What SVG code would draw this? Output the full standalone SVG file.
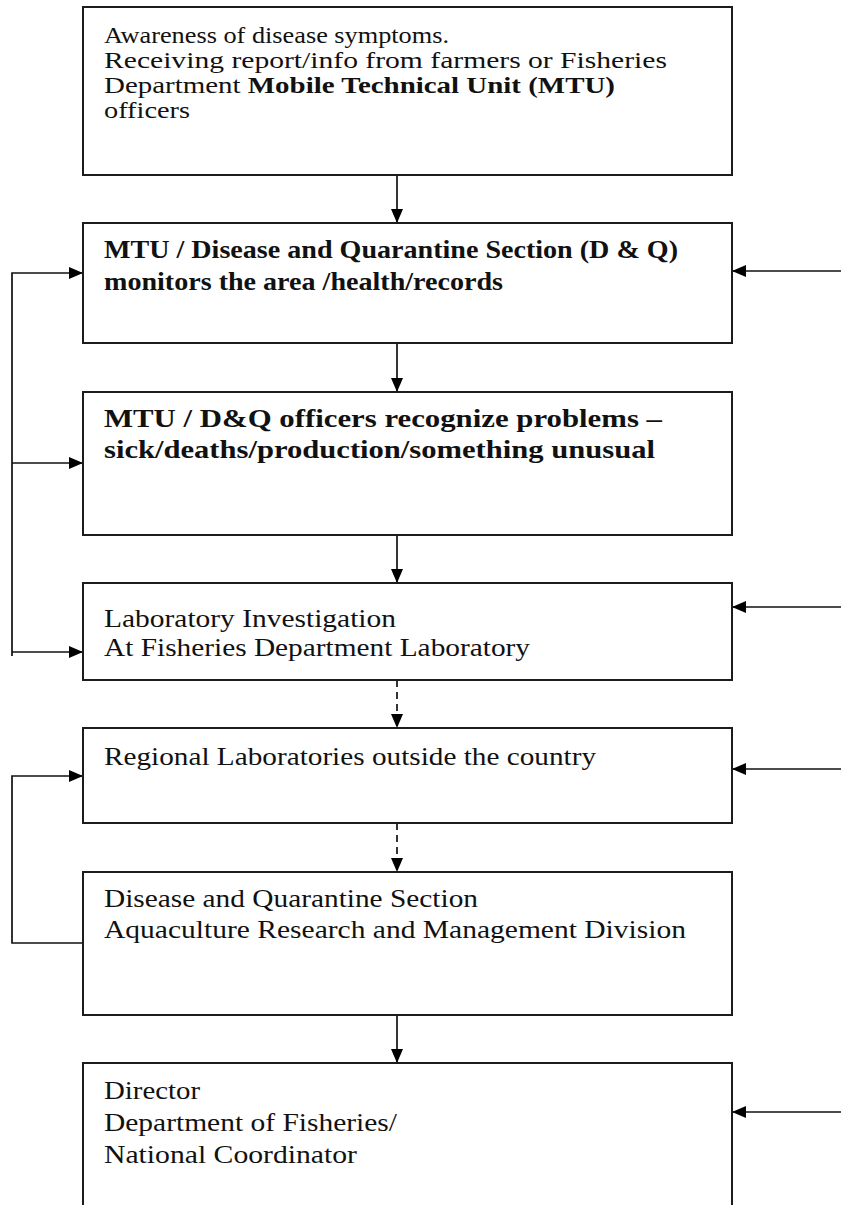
<svg xmlns="http://www.w3.org/2000/svg" width="841" height="1205" viewBox="0 0 841 1205">
  <style>
    .box { fill: #ffffff; stroke: #1c1c1c; stroke-width: 2; }
    .lbl { font-family: "Liberation Serif", "Times New Roman", serif; font-size: 26px; fill: #111111; }
    .tight { font-size: 23px; }
    .b { font-weight: bold; }
    .wire { fill: none; stroke: #111111; stroke-width: 1.7; }
    .dash { stroke-dasharray: 7 5; }
  </style>
  <defs>
    <marker id="head" viewBox="0 0 14 12" refX="14" refY="6" markerWidth="14" markerHeight="12" markerUnits="userSpaceOnUse" orient="auto">
      <path d="M0,0 L14,6 L0,12 Z" fill="#000000"/>
    </marker>
  </defs>
  <rect width="841" height="1205" fill="#ffffff"/>

  <!-- connectors -->
  <g id="connectors">
    <!-- main vertical flow -->
    <path class="wire" d="M397,175 V223" marker-end="url(#head)"/>
    <path class="wire" d="M397,343 V392" marker-end="url(#head)"/>
    <path class="wire" d="M397,535 V583" marker-end="url(#head)"/>
    <path class="wire dash" d="M397,680 V728" marker-end="url(#head)"/>
    <path class="wire dash" d="M397,823 V872" marker-end="url(#head)"/>
    <path class="wire" d="M397,1015 V1063" marker-end="url(#head)"/>
    <!-- left feedback bus -->
    <path class="wire" d="M12,656 V273 H83" marker-end="url(#head)"/>
    <path class="wire" d="M12,463 H83" marker-end="url(#head)"/>
    <path class="wire" d="M12,652 H83" marker-end="url(#head)"/>
    <path class="wire" d="M83,943 H12 V776 H83" marker-end="url(#head)"/>
    <!-- inputs from the right -->
    <path class="wire" d="M841,271 H732" marker-end="url(#head)"/>
    <path class="wire" d="M841,607 H732" marker-end="url(#head)"/>
    <path class="wire" d="M841,769 H732" marker-end="url(#head)"/>
    <path class="wire" d="M841,1112 H732" marker-end="url(#head)"/>
  </g>

  <g id="awareness">
    <rect class="box" x="83" y="7" width="649" height="168"/>
    <text class="lbl tight" x="104" y="43" textLength="345" lengthAdjust="spacingAndGlyphs">Awareness of disease symptoms.</text>
    <text class="lbl tight" x="104" y="68" textLength="563" lengthAdjust="spacingAndGlyphs">Receiving report/info from farmers or Fisheries</text>
    <text class="lbl tight" x="104" y="93" textLength="511" lengthAdjust="spacingAndGlyphs">Department <tspan class="b">Mobile Technical Unit (MTU)</tspan></text>
    <text class="lbl tight" x="104" y="118" textLength="86" lengthAdjust="spacingAndGlyphs">officers</text>
  </g>

  <g id="monitoring">
    <rect class="box" x="83" y="223" width="649" height="120"/>
    <text class="lbl b" x="104" y="258" textLength="574" lengthAdjust="spacingAndGlyphs">MTU / Disease and Quarantine Section (D &amp; Q)</text>
    <text class="lbl b" x="104" y="290" textLength="399" lengthAdjust="spacingAndGlyphs">monitors the area /health/records</text>
  </g>

  <g id="recognition">
    <rect class="box" x="83" y="392" width="649" height="143"/>
    <text class="lbl b" x="104" y="427" textLength="558" lengthAdjust="spacingAndGlyphs">MTU / D&amp;Q officers  recognize problems –</text>
    <text class="lbl b" x="104" y="458" textLength="551" lengthAdjust="spacingAndGlyphs">sick/deaths/production/something unusual</text>
  </g>

  <g id="lab-investigation">
    <rect class="box" x="83" y="583" width="649" height="97"/>
    <text class="lbl" x="104" y="627" textLength="292" lengthAdjust="spacingAndGlyphs">Laboratory Investigation</text>
    <text class="lbl" x="104" y="656" textLength="426" lengthAdjust="spacingAndGlyphs">At Fisheries Department Laboratory</text>
  </g>

  <g id="regional-labs">
    <rect class="box" x="83" y="728" width="649" height="95"/>
    <text class="lbl" x="104" y="765" textLength="492" lengthAdjust="spacingAndGlyphs">Regional Laboratories outside the country</text>
  </g>

  <g id="dq-section">
    <rect class="box" x="83" y="872" width="649" height="143"/>
    <text class="lbl" x="104" y="907" textLength="374" lengthAdjust="spacingAndGlyphs">Disease and Quarantine Section</text>
    <text class="lbl" x="104" y="938" textLength="582" lengthAdjust="spacingAndGlyphs">Aquaculture Research and Management Division</text>
  </g>

  <g id="director">
    <rect class="box" x="83" y="1063" width="649" height="160"/>
    <text class="lbl" x="104" y="1099" textLength="96" lengthAdjust="spacingAndGlyphs">Director</text>
    <text class="lbl" x="104" y="1131" textLength="293" lengthAdjust="spacingAndGlyphs">Department of Fisheries/</text>
    <text class="lbl" x="104" y="1163" textLength="253" lengthAdjust="spacingAndGlyphs">National Coordinator</text>
  </g>
</svg>
